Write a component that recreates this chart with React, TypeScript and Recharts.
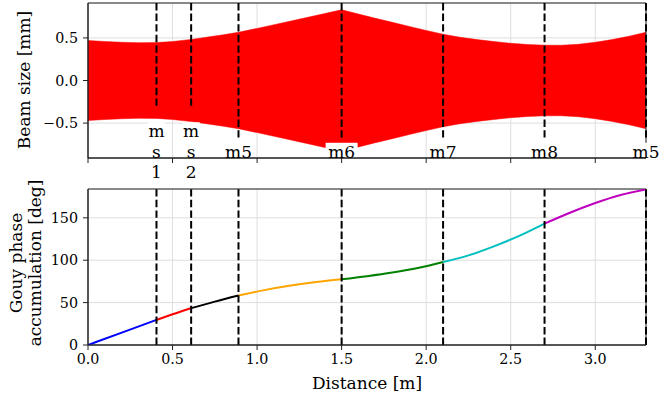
import React from "react";
import {
  Area,
  CartesianGrid,
  ComposedChart,
  Line,
  LineChart,
  ReferenceArea,
  ReferenceDot,
  ReferenceLine,
  XAxis,
  YAxis,
} from "recharts";

// beam radius (mm)
const beamZ = [
  0, 0.1, 0.2, 0.3, 0.405, 0.5, 0.61, 0.7, 0.8, 0.89, 1.0, 1.1, 1.2, 1.3, 1.4,
  1.5, 1.6, 1.7, 1.8, 1.9, 2.0, 2.1, 2.2, 2.3, 2.4, 2.5, 2.6, 2.7, 2.8, 2.9,
  3.0, 3.1, 3.2, 3.3,
];
const beamW = [
  0.47, 0.458, 0.449, 0.444, 0.445, 0.458, 0.482, 0.508, 0.537, 0.566, 0.612,
  0.655, 0.698, 0.742, 0.786, 0.83, 0.78, 0.73, 0.683, 0.635, 0.588, 0.543,
  0.508, 0.48, 0.458, 0.437, 0.423, 0.415, 0.414, 0.425, 0.449, 0.48, 0.52,
  0.566,
];

// accumulated gouy phase (deg)
const gouyZ = [
  0, 0.2, 0.405, 0.5, 0.61, 0.75, 0.89, 1.05, 1.2, 1.35, 1.5, 1.65, 1.8, 1.95,
  2.1, 2.25, 2.4, 2.55, 2.7, 2.85, 3.0, 3.15, 3.3,
];
const gouyDeg = [
  0, 14.6, 29.6, 36.2, 43.4, 51.2, 58.4, 65.0, 70.1, 74.2, 77.5, 81.2, 85.5,
  90.8, 97.9, 105.7, 116.4, 128.7, 143.2, 156, 167.5, 177, 183.5,
];

const opticZ = [0.405, 0.61, 0.89, 1.5, 2.1, 2.7, 3.3];
const opticLabels = ["m\ns\n1", "m\ns\n2", "m5", "m6", "m7", "m8", "m5"];
const lineEnds = [-0.317, -0.317, -0.69, -0.69, -0.69, -0.69, -0.69];
const segColors = [
  "#0000ff",
  "#ff0000",
  "#000000",
  "#ffa500",
  "#008000",
  "#00bfbf",
  "#bf00bf",
];

const xTicks = [0, 0.5, 1.0, 1.5, 2.0, 2.5, 3.0];
const beamTicks = [-0.5, 0, 0.5];
const gouyTicks = [0, 50, 100, 150];

const FONT = "DejaVu Serif";
const GRID = "#dedede";
const DASH = "7.4 3.2";

const beamRows = beamZ.map((z, i) => ({ z, band: [-beamW[i], beamW[i]] }));

const bounds = [0, ...opticZ];
const gouyRows = gouyZ.map((z, i) => {
  const row: Record<string, number> = { z };
  segColors.forEach((_, s) => {
    if (z >= bounds[s] && z <= bounds[s + 1]) row["s" + s] = gouyDeg[i];
  });
  return row;
});

const tickStyle = { fontSize: 14.3, fontFamily: FONT, fill: "#000" };
const fmtBeam = (v: number) =>
  v < 0 ? "\u2212" + Math.abs(v).toFixed(1) : v.toFixed(1);

// white box stops just above the bottom spine, like the reference
function OpticLabel(props: any) {
  const { cx, cy, text } = props;
  const lines = String(text).split("\n");
  const lh = 20.5;
  const w = Math.max(...lines.map((l) => l.length)) * 15 + 2;
  const first = cy + 6 - ((lines.length - 1) * lh) / 2;
  const top = first - 15;
  const bottom = 157;
  return (
    <g>
      <rect x={cx - w / 2} y={top} width={w} height={bottom - top} fill="#fff" />
      {lines.map((l, i) => (
        <text
          key={i}
          x={cx}
          y={first + i * lh}
          textAnchor="middle"
          fontSize={17}
          fontFamily={FONT}
          fill="#000"
        >
          {l}
        </text>
      ))}
    </g>
  );
}

function BeamPanel() {
  return (
    <ComposedChart
      width={663}
      height={185}
      data={beamRows}
      margin={{ top: 3, right: 17, bottom: 0, left: 0 }}
    >
      <CartesianGrid stroke={GRID} />
      <Area
        dataKey="band"
        type="linear"
        fill="#ff0000"
        fillOpacity={1}
        stroke="#ff0000"
        strokeWidth={0.5}
        isAnimationActive={false}
      />
      {opticZ.map((z, i) => (
        <ReferenceLine
          key={"l" + i}
          segment={[
            { x: z, y: 0.91 },
            { x: z, y: lineEnds[i] },
          ]}
          stroke="#000"
          strokeWidth={2}
          strokeDasharray={DASH}
          ifOverflow="visible"
        />
      ))}
      {opticZ.map((z, i) => (
        <ReferenceDot
          key={"t" + i}
          x={z}
          y={-0.837}
          r={0}
          ifOverflow="visible"
          shape={(p: any) => <OpticLabel {...p} text={opticLabels[i]} />}
        />
      ))}
      <ReferenceArea
        x1={0}
        x2={3.3}
        y1={-0.91}
        y2={0.91}
        fill="none"
        stroke="#222"
        strokeWidth={1}
        ifOverflow="visible"
      />
      <XAxis
        dataKey="z"
        type="number"
        domain={[0, 3.3]}
        ticks={xTicks}
        height={27}
        tickFormatter={() => ""}
        tickSize={5}
        stroke="#222"
        allowDataOverflow
      />
      <YAxis
        type="number"
        domain={[-0.91, 0.91]}
        ticks={beamTicks}
        width={88}
        tickSize={5}
        tickMargin={5}
        tick={tickStyle}
        tickFormatter={fmtBeam}
        stroke="#222"
        allowDataOverflow
        label={{
          content: () => (
            <text
              x={30}
              y={80}
              transform="rotate(-90 30 80)"
              textAnchor="middle"
              fontSize={17}
              fontFamily={FONT}
              fill="#000"
            >
              Beam size [mm]
            </text>
          ),
        }}
      />
    </ComposedChart>
  );
}

function GouyPanel() {
  return (
    <LineChart
      width={663}
      height={227}
      data={gouyRows}
      margin={{ top: 19, right: 17, bottom: 0, left: 0 }}
    >
      <CartesianGrid stroke={GRID} />
      <XAxis
        dataKey="z"
        type="number"
        domain={[0, 3.3]}
        ticks={xTicks}
        height={52}
        tickSize={5}
        tickMargin={4}
        tick={tickStyle}
        tickFormatter={(v: number) => v.toFixed(1)}
        stroke="#222"
        allowDataOverflow
        label={{
          content: () => (
            <text
              x={367}
              y={219}
              textAnchor="middle"
              fontSize={17}
              fontFamily={FONT}
              fill="#000"
            >
              Distance [m]
            </text>
          ),
        }}
      />
      <YAxis
        type="number"
        domain={[0, 184]}
        ticks={gouyTicks}
        width={88}
        tickSize={5}
        tickMargin={5}
        tick={tickStyle}
        stroke="#222"
        allowDataOverflow
        label={{
          content: () => (
            <g fontSize={17} fontFamily={FONT} fill="#000">
              <text
                x={21.5}
                y={93}
                transform="rotate(-90 21.5 93)"
                textAnchor="middle"
              >
                Gouy phase
              </text>
              <text
                x={41}
                y={93}
                transform="rotate(-90 41 93)"
                textAnchor="middle"
              >
                accumulation [deg]
              </text>
            </g>
          ),
        }}
      />
      <ReferenceArea
        x1={0}
        x2={3.3}
        y1={0}
        y2={184}
        fill="none"
        stroke="#222"
        strokeWidth={1}
        ifOverflow="visible"
      />
      {segColors.map((c, s) => (
        <Line
          key={s}
          dataKey={"s" + s}
          type="monotone"
          stroke={c}
          strokeWidth={2}
          dot={false}
          connectNulls={false}
          isAnimationActive={false}
        />
      ))}
      {opticZ.map((z, i) => (
        <ReferenceLine
          key={i}
          x={z}
          stroke="#000"
          strokeWidth={2}
          strokeDasharray={DASH}
        />
      ))}
    </LineChart>
  );
}

export default function App() {
  return (
    <div
      style={{
        position: "absolute",
        left: 0,
        top: 0,
        width: 663,
        height: 397,
        background: "#fff",
      }}
    >
      <div style={{ position: "absolute", left: 0, top: 0 }}>
        <BeamPanel />
      </div>
      <div style={{ position: "absolute", left: 0, top: 170 }}>
        <GouyPanel />
      </div>
    </div>
  );
}
